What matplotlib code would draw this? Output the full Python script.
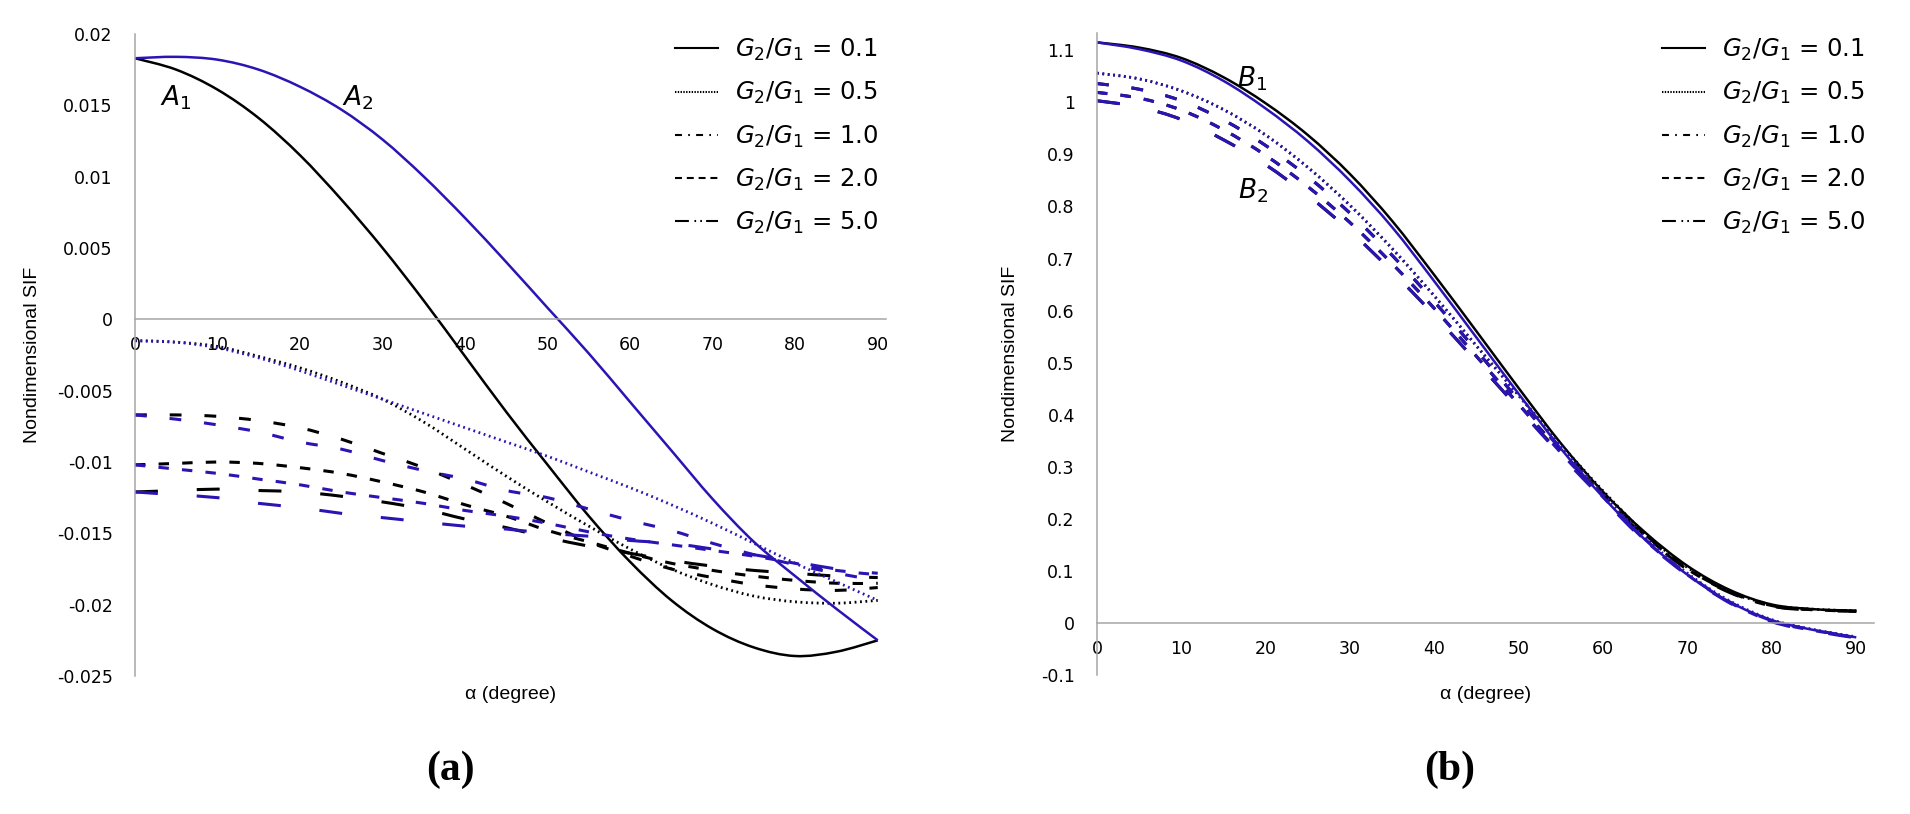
import matplotlib
matplotlib.use('Agg')
import matplotlib.pyplot as plt
from matplotlib.lines import Line2D
from matplotlib.path import Path
from matplotlib.patches import PathPatch
from matplotlib.ticker import FuncFormatter

plt.rcParams['axes.unicode_minus'] = False
plt.rcParams['lines.scale_dashes'] = False
plt.rcParams['mathtext.fontset'] = 'dejavusans'

alpha = [0, 5, 10, 15, 20, 25, 30, 35, 40, 45, 50, 55, 60, 65, 70, 75, 80, 85, 90]
ratios = ['0.1', '0.5', '1.0', '2.0', '5.0']

# (a) point A (black = A1, blue = A2)
a_black = {
    '0.1': [0.0183, 0.0175, 0.0161, 0.0141, 0.0115, 0.0084, 0.0050, 0.0013, -0.0026, -0.0065,
            -0.0102, -0.0138, -0.0170, -0.0197, -0.0217, -0.0230, -0.0236, -0.0233, -0.0225],
    '0.5': [-0.0015, -0.0016, -0.0019, -0.0026, -0.0034, -0.0044, -0.0056, -0.0072, -0.0091, -0.0110,
            -0.0128, -0.0145, -0.0161, -0.0175, -0.0186, -0.0194, -0.0198, -0.0199, -0.0197],
    '1.0': [-0.0067, -0.0067, -0.0068, -0.0071, -0.0076, -0.0084, -0.0094, -0.0104, -0.0116, -0.0129,
            -0.0143, -0.0156, -0.0166, -0.0175, -0.0181, -0.0186, -0.0189, -0.0190, -0.0188],
    '2.0': [-0.0102, -0.0101, -0.0100, -0.0101, -0.0104, -0.0108, -0.0114, -0.0121, -0.0130, -0.0138,
            -0.0148, -0.0156, -0.0164, -0.0171, -0.0176, -0.0180, -0.0183, -0.0185, -0.0185],
    '5.0': [-0.0121, -0.0120, -0.0119, -0.0120, -0.0121, -0.0124, -0.0128, -0.0133, -0.0140, -0.0146,
            -0.0153, -0.0159, -0.0164, -0.0169, -0.0173, -0.0176, -0.0178, -0.0180, -0.0181],
}
a_blue = {
    '0.1': [0.0183, 0.0184, 0.0182, 0.0175, 0.0163, 0.0147, 0.0126, 0.0100, 0.0071, 0.0040,
            0.0008, -0.0024, -0.0058, -0.0092, -0.0126, -0.0156, -0.0180, -0.0203, -0.0225],
    '0.5': [-0.0015, -0.0016, -0.0020, -0.0027, -0.0036, -0.0046, -0.0056, -0.0066, -0.0076, -0.0086,
            -0.0096, -0.0107, -0.0118, -0.0130, -0.0143, -0.0157, -0.0171, -0.0184, -0.0197],
    '1.0': [-0.0067, -0.0070, -0.0074, -0.0079, -0.0086, -0.0091, -0.0099, -0.0106, -0.0112, -0.0120,
            -0.0125, -0.0133, -0.0141, -0.0148, -0.0157, -0.0165, -0.0172, -0.0178, -0.0183],
    '2.0': [-0.0102, -0.0105, -0.0108, -0.0112, -0.0116, -0.0121, -0.0125, -0.0129, -0.0134, -0.0138,
            -0.0143, -0.0149, -0.0154, -0.0158, -0.0162, -0.0166, -0.0171, -0.0176, -0.0179],
    '5.0': [-0.0121, -0.0123, -0.0125, -0.0129, -0.0132, -0.0136, -0.0139, -0.0142, -0.0145, -0.0147,
            -0.0150, -0.0152, -0.0155, -0.0157, -0.0161, -0.0165, -0.0170, -0.0175, -0.0178],
}

# (b) point B (black = B1, blue = B2)
b_black = {
    '0.1': [1.115, 1.105, 1.085, 1.048, 0.998, 0.937, 0.862, 0.772, 0.668, 0.560,
            0.451, 0.345, 0.252, 0.174, 0.110, 0.064, 0.036, 0.027, 0.024],
    '0.5': [1.056, 1.045, 1.022, 0.986, 0.937, 0.875, 0.802, 0.719, 0.628, 0.532,
            0.437, 0.343, 0.254, 0.172, 0.107, 0.062, 0.035, 0.027, 0.024],
    '1.0': [1.036, 1.025, 1.003, 0.966, 0.917, 0.857, 0.787, 0.706, 0.617, 0.523,
            0.428, 0.336, 0.250, 0.170, 0.105, 0.061, 0.034, 0.026, 0.024],
    '2.0': [1.019, 1.008, 0.985, 0.947, 0.898, 0.838, 0.769, 0.690, 0.604, 0.512,
            0.420, 0.330, 0.246, 0.168, 0.104, 0.060, 0.033, 0.026, 0.023],
    '5.0': [1.003, 0.991, 0.967, 0.928, 0.880, 0.821, 0.753, 0.675, 0.591, 0.502,
            0.412, 0.325, 0.243, 0.166, 0.103, 0.059, 0.033, 0.025, 0.023],
}
b_blue = {
    '0.1': [1.115, 1.102, 1.080, 1.041, 0.988, 0.925, 0.849, 0.760, 0.656, 0.548,
            0.440, 0.335, 0.242, 0.160, 0.093, 0.041, 0.006, -0.013, -0.027],
    '0.5': [1.056, 1.045, 1.022, 0.986, 0.937, 0.875, 0.802, 0.719, 0.628, 0.532,
            0.437, 0.340, 0.248, 0.164, 0.096, 0.043, 0.007, -0.012, -0.026],
    '1.0': [1.036, 1.025, 1.003, 0.966, 0.917, 0.857, 0.787, 0.706, 0.617, 0.523,
            0.428, 0.333, 0.245, 0.161, 0.094, 0.041, 0.005, -0.013, -0.027],
    '2.0': [1.019, 1.008, 0.985, 0.947, 0.898, 0.838, 0.769, 0.690, 0.604, 0.512,
            0.420, 0.327, 0.242, 0.159, 0.093, 0.040, 0.004, -0.014, -0.027],
    '5.0': [1.003, 0.991, 0.967, 0.928, 0.880, 0.821, 0.753, 0.675, 0.591, 0.502,
            0.412, 0.322, 0.238, 0.157, 0.092, 0.039, 0.003, -0.015, -0.028],
}

BLUE = '#2a14b4'
GREY = '#a6a6a6'
LABEL_FONT = ['Liberation Sans', 'DejaVu Sans']

# dash patterns in points
curve_style = {
    '0.1': dict(linestyle='-', lw=1.8),
    '0.5': dict(linestyle=(0, (1.3, 2.6)), lw=2.0),
    '1.0': dict(linestyle=(0, (8.5, 16.5)), lw=2.2),
    '2.0': dict(linestyle=(0, (7.5, 9.5)), lw=2.2),
    '5.0': dict(linestyle=(0, (16.5, 28)), lw=2.2),
}
legend_style = {
    '0.1': '-',
    '0.5': (0, (1.0, 1.0)),
    '1.0': (0, (5, 4.5, 1.2, 4.5)),
    '2.0': (0, (5, 3.5)),
    '5.0': (0, (10, 4, 1.2, 3, 1.2, 3)),
}

fig = plt.figure(figsize=(19.1, 8.14), dpi=100)
W, H = 1910.0, 814.0


def smooth_line(ax, x, y, color, linestyle, lw):
    # Excel-like smoothed line: cubic bezier through the data points
    n = len(x)
    verts = [(x[0], y[0])]
    codes = [Path.MOVETO]
    for i in range(n - 1):
        i0 = max(i - 1, 0)
        i3 = min(i + 2, n - 1)
        c1 = (x[i] + (x[i + 1] - x[i0]) / 6.0, y[i] + (y[i + 1] - y[i0]) / 6.0)
        c2 = (x[i + 1] - (x[i3] - x[i]) / 6.0, y[i + 1] - (y[i3] - y[i]) / 6.0)
        verts += [c1, c2, (x[i + 1], y[i + 1])]
        codes += [Path.CURVE4] * 3
    ax.add_patch(PathPatch(Path(verts, codes), fill=False, edgecolor=color,
                           linestyle=linestyle, lw=lw, capstyle='butt', joinstyle='round'))


def setup(ax, yticks, ylab_fmt):
    for s in ['top', 'right']:
        ax.spines[s].set_visible(False)
    ax.spines['left'].set_color(GREY)
    ax.spines['left'].set_linewidth(1.1)
    ax.spines['bottom'].set_color(GREY)
    ax.spines['bottom'].set_linewidth(1.1)
    ax.spines['bottom'].set_position(('data', 0))
    ax.set_xticks(range(0, 91, 10))
    ax.set_yticks(yticks)
    ax.yaxis.set_major_formatter(FuncFormatter(ylab_fmt))
    ax.tick_params(axis='x', length=0, pad=12, labelsize=12.5)
    ax.tick_params(axis='y', length=0, pad=16, labelsize=12.5)
    ax.set_ylabel('Nondimensional SIF', family=LABEL_FONT, fontsize=14)
    ax.set_xlabel('\u03b1 (degree)', family=LABEL_FONT, fontsize=14)
    ax.patch.set_visible(False)


def add_legend(x0):
    handles = [Line2D([], [], color='black', lw=1.5, linestyle=legend_style[r]) for r in ratios]
    labels = [r'$G_2/G_1$ = ' + r for r in ratios]
    fig.legend(handles, labels, loc='upper left', bbox_to_anchor=(x0 / W, 1 - 37 / H),
               frameon=False, fontsize=17.5, handlelength=1.77, handletextpad=0.7,
               labelspacing=0.7, borderpad=0, borderaxespad=0)


# panel (a)
ax1 = fig.add_axes([135 / W, (H - 676) / H, (886 - 135) / W, (676 - 34) / H])
for r in ratios:
    smooth_line(ax1, alpha, a_black[r], 'black', curve_style[r]['linestyle'], curve_style[r]['lw'])
for r in ratios:
    smooth_line(ax1, alpha, a_blue[r], BLUE, curve_style[r]['linestyle'], curve_style[r]['lw'])
ax1.set_xlim(0, 91)
ax1.set_ylim(-0.025, 0.02)
setup(ax1, [0.02, 0.015, 0.01, 0.005, 0, -0.005, -0.01, -0.015, -0.02, -0.025],
      lambda v, p: '0' if abs(v) < 1e-9 else ('%.3f' % v).rstrip('0'))
ax1.yaxis.set_label_coords(-0.125, 0.5)
ax1.xaxis.set_label_coords(0.5, -0.016)
ax1.text(3.0, 0.0150, r'$A_1$', fontsize=19)
ax1.text(25.1, 0.0150, r'$A_2$', fontsize=19)
add_legend(675)

# panel (b)
ax2 = fig.add_axes([1097 / W, (H - 675.4) / H, (1874 - 1097) / W, (675.4 - 33) / H])
for r in ratios:
    smooth_line(ax2, alpha, b_black[r], 'black', curve_style[r]['linestyle'], curve_style[r]['lw'])
for r in ratios:
    smooth_line(ax2, alpha, b_blue[r], BLUE, curve_style[r]['linestyle'], curve_style[r]['lw'])
ax2.set_xlim(0, 92.1)
ax2.set_ylim(-0.1, 1.133)
setup(ax2, [1.1, 1.0, 0.9, 0.8, 0.7, 0.6, 0.5, 0.4, 0.3, 0.2, 0.1, 0, -0.1],
      lambda v, p: '0' if abs(v) < 1e-9 else ('%.1f' % v).rstrip('0').rstrip('.'))
ax2.yaxis.set_label_coords(-0.1, 0.5)
ax2.xaxis.set_label_coords(0.5, -0.016)
ax2.text(16.6, 1.03, r'$B_1$', fontsize=19)
ax2.text(16.7, 0.815, r'$B_2$', fontsize=19)
add_legend(1662)

fig.text(450 / W, (H - 770) / H, '(a)', ha='center', va='center', fontsize=30,
         fontweight='bold', family=['Liberation Serif', 'DejaVu Serif'])
fig.text(1450 / W, (H - 770) / H, '(b)', ha='center', va='center', fontsize=30,
         fontweight='bold', family=['Liberation Serif', 'DejaVu Serif'])

fig.savefig('out.png', dpi=100)
